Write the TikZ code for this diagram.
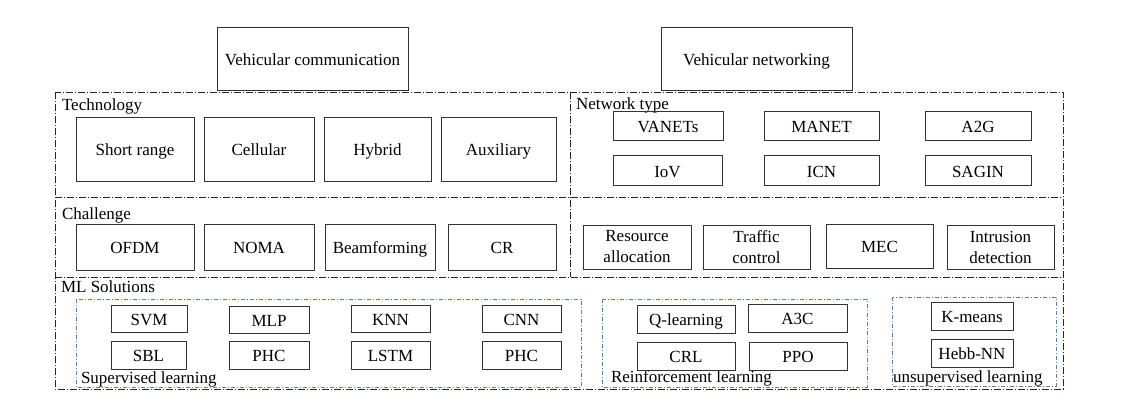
\documentclass[tikz,border=0pt]{standalone}
\usepackage{fontspec}
\setmainfont{Liberation Serif}
\definecolor{grpblue}{HTML}{5A7FA8}
\begin{document}
\begin{tikzpicture}[x=1pt,y=-1pt,
  every node/.style={font=\fontsize{17}{21}\selectfont, inner sep=0pt, outer sep=0pt},
  bx/.style={draw=black!80, line width=1pt, align=center, text height=14pt, text depth=1pt},
  two/.style={text height={}, text depth={}},
  lbl/.style={anchor=base west},
  region/.style={draw=black!85, line width=0.9pt, dash pattern=on 7pt off 2pt on 1pt off 2pt},
  grp/.style={draw=grpblue, line width=0.8pt, dash pattern=on 4pt off 2pt on 1pt off 2pt}]
\useasboundingbox (0,0) rectangle (1130,417);
% regions
\draw[region] (55,92) rectangle (1063,389);
\draw[region] (55,197) -- (1063,197);
\draw[region] (55,277) -- (1063,277);
\draw[region] (570,92) -- (570,277);
\draw[grp] (76,299) rectangle (581,387);
\draw[grp] (602,299) rectangle (867,387);
\draw[grp] (892,297) rectangle (1056,386);
% top
\node[bx, fill=white, minimum width=191, minimum height=63] (vc) at (312.5,59.5) {Vehicular communication};
\node[bx, fill=white, minimum width=191, minimum height=63] (vn) at (756.5,59.5) {Vehicular networking};
% labels
\node[lbl] (ltech) at (62,111) {Technology};
\node[lbl] (lnet) at (576,110) {Network type};
\node[lbl] (lchal) at (62,219) {Challenge};
\node[lbl] (lml) at (61,292) {ML Solutions};
\node[lbl] (lsup) at (81,383) {Supervised learning};
\node[lbl] (lrl) at (611,382) {Reinforcement learning};
\node[lbl] (lun) at (893,382) {unsupervised learning};
% technology
\node[bx, minimum width=118, minimum height=63] (sr) at (135,149.5) {Short range};
\node[bx, minimum width=110, minimum height=63] (cel) at (259,149.5) {Cellular};
\node[bx, minimum width=107, minimum height=63] (hyb) at (377.5,149.5) {Hybrid};
\node[bx, minimum width=115, minimum height=63] (aux) at (498.5,149.5) {Auxiliary};
% challenge
\node[bx, minimum width=118, minimum height=46] (ofdm) at (135,247) {OFDM};
\node[bx, minimum width=110, minimum height=46] (noma) at (259,247) {NOMA};
\node[bx, minimum width=110, minimum height=46] (beam) at (380,247) {Beamforming};
\node[bx, minimum width=108, minimum height=46] (cr) at (502,247) {CR};
% network type
\node[bx, minimum width=110, minimum height=29] (vanet) at (668,126.5) {VANETs};
\node[bx, minimum width=115, minimum height=29] (manet) at (821.5,126.5) {MANET};
\node[bx, minimum width=106, minimum height=29] (a2g) at (978,126.5) {A2G};
\node[bx, minimum width=109, minimum height=29] (iov) at (667.5,170.5) {IoV};
\node[bx, minimum width=115, minimum height=29] (icn) at (821.5,170.5) {ICN};
\node[bx, minimum width=106, minimum height=29] (sagin) at (978,170.5) {SAGIN};
% right challenge row
\node[bx, two, minimum width=108, minimum height=44] (ra) at (637,247) {Resource\\allocation};
\node[bx, two, minimum width=107, minimum height=44] (tc) at (756.5,247) {Traffic\\control};
\node[bx, minimum width=107, minimum height=44] (mec) at (879.5,246) {MEC};
\node[bx, two, minimum width=107, minimum height=44] (id) at (1000.5,247) {Intrusion\\detection};
% supervised
\node[bx, minimum width=76, minimum height=27] (svm) at (149,318.5) {SVM};
\node[bx, minimum width=80, minimum height=27] (mlp) at (269,319.5) {MLP};
\node[bx, minimum width=79, minimum height=27] (knn) at (390.5,318.5) {KNN};
\node[bx, minimum width=79, minimum height=27] (cnn) at (521.5,318.5) {CNN};
\node[bx, minimum width=75, minimum height=28] (sbl) at (148.5,355) {SBL};
\node[bx, minimum width=80, minimum height=28] (phc) at (269,355) {PHC};
\node[bx, minimum width=79, minimum height=28] (lstm) at (390.5,355) {LSTM};
\node[bx, minimum width=79, minimum height=28] (phcb) at (521.5,355) {PHC};
% reinforcement
\node[bx, minimum width=98, minimum height=28] (ql) at (686,319) {Q-learning};
\node[bx, minimum width=99, minimum height=28] (a3c) at (797.5,318) {A3C};
\node[bx, minimum width=98, minimum height=28] (crl) at (686,356) {CRL};
\node[bx, minimum width=98, minimum height=28] (ppo) at (798,356) {PPO};
% unsupervised
\node[bx, minimum width=82, minimum height=28] (km) at (972,316) {K-means};
\node[bx, minimum width=82, minimum height=28] (hebb) at (972,353) {Hebb-NN};
\end{tikzpicture}
\end{document}
